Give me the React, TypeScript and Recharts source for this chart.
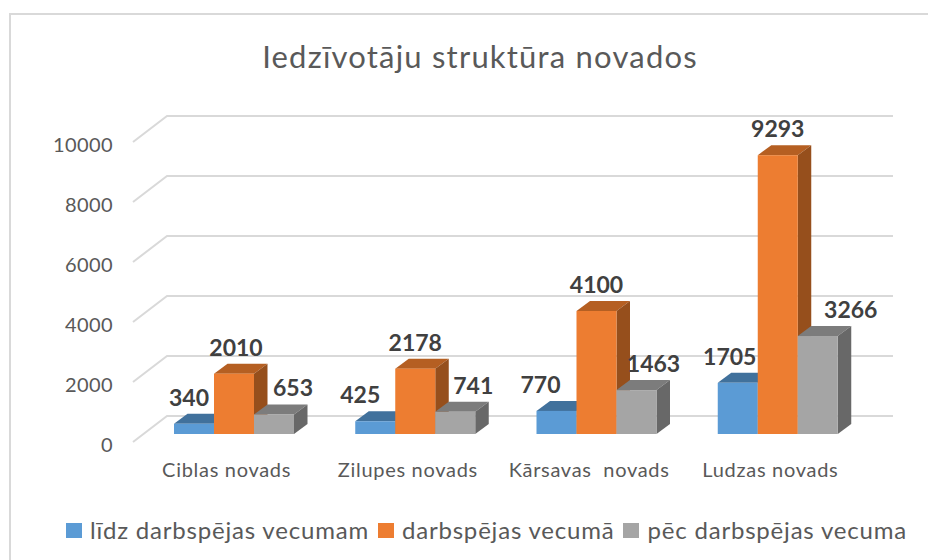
import { BarChart, Bar, XAxis, YAxis, CartesianGrid, LabelList, Legend } from "recharts";

const categories = ["Ciblas novads", "Zilupes novads", "Kārsavas\u00a0 novads", "Ludzas novads"];
const youngValues = [340, 425, 770, 1705];
const workingValues = [2010, 2178, 4100, 9293];
const olderValues = [653, 741, 1463, 3266];
const yTicks = [0, 2000, 4000, 6000, 8000, 10000];

const data = categories.map((name, i) => ({
  name,
  young: youngValues[i],
  working: workingValues[i],
  older: olderValues[i],
}));

const FONT = "Lato, sans-serif";
const DEPTH_X = 13.5;
const DEPTH_Y = 10;

// label nudges, one per category, the labels were moved by hand in the original
const youngNudge = [-5, -15, -16, -8];
const workingNudge = [2, 0, 0, 0];
const olderNudge = [19, 18, 17, 33];

function Bar3D(props: any) {
  const { x, y, width, height, fill, topFill, sideFill } = props;
  const r = x + width;
  const b = y + height;
  return (
    <g>
      <polygon
        points={`${x},${y} ${x + DEPTH_X},${y - DEPTH_Y} ${r + DEPTH_X},${y - DEPTH_Y} ${r},${y}`}
        fill={topFill}
      />
      <polygon
        points={`${r},${y} ${r + DEPTH_X},${y - DEPTH_Y} ${r + DEPTH_X},${b - DEPTH_Y} ${r},${b}`}
        fill={sideFill}
      />
      <rect x={x} y={y} width={width} height={height} fill={fill} />
    </g>
  );
}

function WallLine(props: any) {
  const { y1, key } = props;
  return (
    <path
      key={key}
      d={`M133 ${y1 + 8} L167 ${y1 - 18} L893 ${y1 - 18}`}
      fill="none"
      stroke="#d9d9d9"
      strokeWidth={2}
    />
  );
}

function YTick(props: any) {
  const { y, payload } = props;
  return (
    <text x={113} y={y + 17.5} textAnchor="end" fontFamily={FONT} fontSize={20} letterSpacing={0.4} fill="#595959">
      {payload.value}
    </text>
  );
}

function XTick(props: any) {
  const { x, payload } = props;
  return (
    <text x={x - 8} y={477} textAnchor="middle" fontFamily={FONT} fontSize={20} letterSpacing={0.7} fill="#595959">
      {payload.value}
    </text>
  );
}

function makeLabel(nudge: number[]) {
  return (props: any) => {
    const { x, y, width, value, index } = props;
    return (
      <text
        x={x + width / 2 + nudge[index]}
        y={y - 18}
        textAnchor="middle"
        fontFamily={FONT}
        fontSize={23}
        fontWeight={700}
        fill="#404040"
      >
        {value}
      </text>
    );
  };
}

function LegendRow(props: any) {
  const { payload } = props;
  return (
    <div
      style={{
        display: "flex",
        fontFamily: FONT,
        fontSize: 24,
        letterSpacing: 0.8,
        color: "#595959",
        lineHeight: "28px",
        whiteSpace: "nowrap",
      }}
    >
      {payload.map((item: any) => (
        <div key={item.value} style={{ display: "flex", alignItems: "center", marginRight: 9 }}>
          <span style={{ width: 16, height: 15, background: item.color, marginRight: 8 }} />
          {item.value}
        </div>
      ))}
    </div>
  );
}

export default function App() {
  return (
    <div style={{ position: "relative", width: 936, height: 560, margin: "-8px 0 0 -8px", background: "#fff" }}>
      <div
        style={{
          position: "absolute",
          left: 9,
          top: 13,
          width: 930,
          height: 560,
          boxSizing: "border-box",
          border: "2px solid #d9d9d9",
        }}
      />
      <div
        style={{
          position: "absolute",
          left: 0,
          top: 37,
          width: 960,
          textAlign: "center",
          fontFamily: FONT,
          fontSize: 31,
          letterSpacing: 1.2,
          color: "#595959",
        }}
      >
        Iedzīvotāju struktūra novados
      </div>
      <div style={{ position: "absolute", left: 0, top: 0 }}>
        <BarChart
          width={936}
          height={560}
          data={data}
          margin={{ top: 134, right: 67, bottom: 125, left: 143 }}
          barCategoryGap={30}
          barGap={0}
        >
          <CartesianGrid horizontal={WallLine} vertical={false} />
          <XAxis dataKey="name" height={1} axisLine={false} tickLine={false} tick={XTick} interval={0} />
          <YAxis
            width={1}
            domain={[0, 10000]}
            ticks={yTicks}
            axisLine={false}
            tickLine={false}
            tick={YTick}
            interval={0}
          />
          <Legend
            layout="horizontal"
            verticalAlign="middle"
            itemSorter={null}
            wrapperStyle={{ top: 516, left: 66, width: 870 }}
            content={LegendRow}
          />
          <Bar
            dataKey="young"
            name="līdz darbspējas vecumam"
            fill="#5b9bd5"
            isAnimationActive={false}
            shape={(p: any) => <Bar3D {...p} topFill="#41719c" sideFill="#3a6891" />}
          >
            <LabelList dataKey="young" content={makeLabel(youngNudge)} />
          </Bar>
          <Bar
            dataKey="working"
            name="darbspējas vecumā"
            fill="#ed7d31"
            isAnimationActive={false}
            shape={(p: any) => <Bar3D {...p} topFill="#b55f22" sideFill="#964f1c" />}
          >
            <LabelList dataKey="working" content={makeLabel(workingNudge)} />
          </Bar>
          <Bar
            dataKey="older"
            name="pēc darbspējas vecuma"
            fill="#a5a5a5"
            isAnimationActive={false}
            shape={(p: any) => <Bar3D {...p} topFill="#7c7c7c" sideFill="#686868" />}
          >
            <LabelList dataKey="older" content={makeLabel(olderNudge)} />
          </Bar>
        </BarChart>
      </div>
    </div>
  );
}
